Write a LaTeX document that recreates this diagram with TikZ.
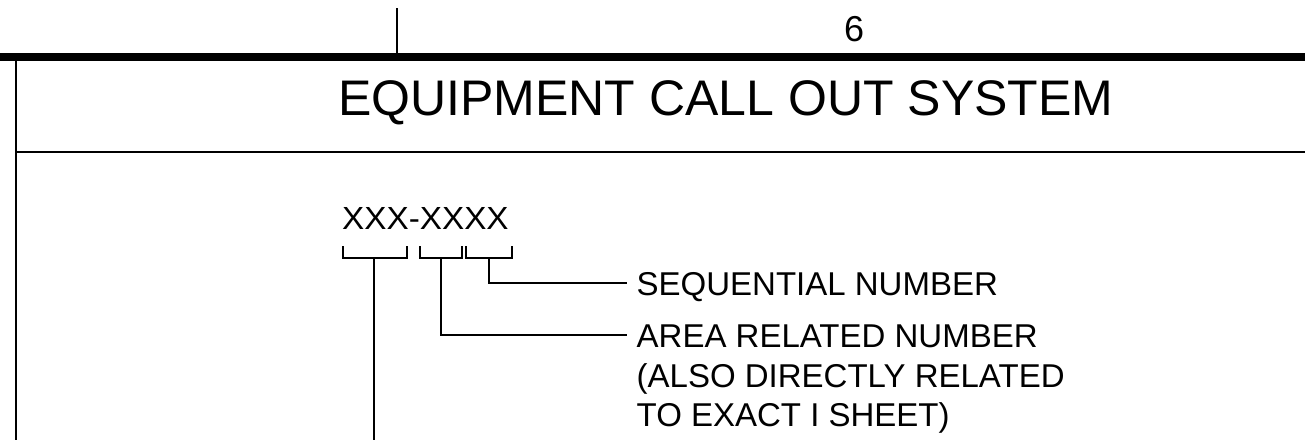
\documentclass[tikz,border=0pt]{standalone}
\usepackage{fontspec}
\setmainfont{Liberation Sans}
\newfontfamily\codefont[FakeStretch=1.04]{Liberation Sans}
\begin{document}
\begin{tikzpicture}[x=1pt,y=-1pt,
  rule/.style={line width=2.3pt},
  thick rule/.style={line width=7.7pt},
  brk/.style={line width=1.8pt},
  lbl/.style={anchor=base west,inner sep=0pt,font=\fontsize{33}{40}\selectfont},
  title/.style={anchor=base west,inner sep=0pt,font=\fontsize{50}{56}\selectfont},
  code/.style={anchor=base west,inner sep=0pt,font=\codefont\fontsize{32}{36}\selectfont},
  num/.style={anchor=base,inner sep=0pt,font=\fontsize{36}{40}\selectfont}]
\useasboundingbox (0,0) rectangle (1305,440);
\fill[white] (0,0) rectangle (1305,440);

% frame lines
\coordinate (tl) at (0,57);
\coordinate (tr) at (1305,57);
\draw[thick rule] (tl) -- (tr);
\coordinate (vt) at (397,8);
\coordinate (vb) at (397,54);
\draw[line width=1.8pt] (vt) -- (vb);
\coordinate (lt) at (16,60);
\coordinate (lb) at (16,440);
\draw[line width=2.6pt] (lt) -- (lb);
\coordinate (hl) at (16,152);
\coordinate (hr) at (1305,152);
\draw[rule] (hl) -- (hr);

% texts
\node[num] (six) at (854,41.5) {6};
\node[title] (ttl) at (338,115) {EQUIPMENT CALL OUT SYSTEM};
\node[code] (xc) at (342,229) {XXX-XXXX};
\node[lbl] (seq) at (636.5,295) {SEQUENTIAL NUMBER};
\node[lbl] (area1) at (636.5,347.5) {AREA RELATED NUMBER};
\node[lbl] (area2) at (636.5,387) {(ALSO DIRECTLY RELATED};
\node[lbl] (area3) at (636.5,426) {TO EXACT I SHEET)};

% brackets
\draw[brk] (343,246) -- (343,258) -- (407,258) -- (407,246);
\draw[brk] (420,246) -- (420,258) -- (462,258) -- (462,246);
\draw[brk] (466,246) -- (466,258) -- (512,258) -- (512,246);

% leaders
\coordinate (s1) at (374,258);
\coordinate (e1) at (374,440);
\coordinate (s2) at (441,258);
\coordinate (e2) at (627,335);
\coordinate (s3) at (489,258);
\coordinate (e3) at (627,283);
\draw[brk] (s1) -- (e1);
\draw[brk] (s2) |- (e2);
\draw[brk] (s3) |- (e3);
\end{tikzpicture}
\end{document}
